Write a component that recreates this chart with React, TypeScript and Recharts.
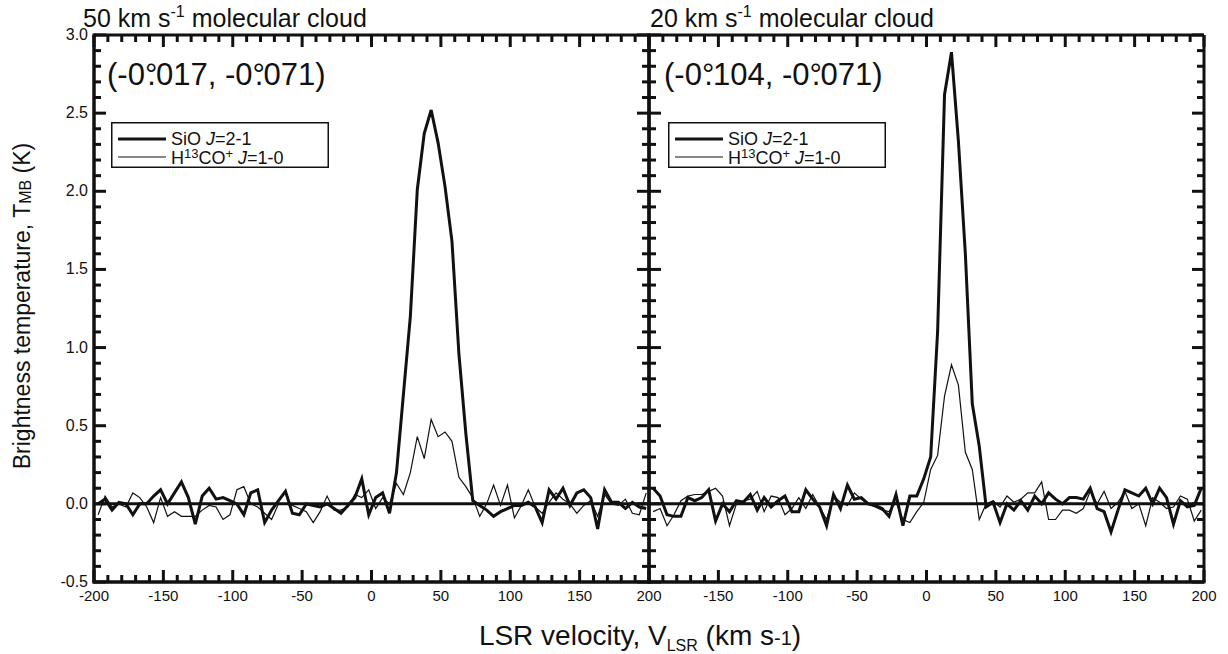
import React from 'react';
import { LineChart, Line, XAxis, YAxis, ReferenceLine, Legend } from 'recharts';

// channel centres (km/s)
const velocity = [
  -197, -192, -187, -182, -177, -172, -167, -162, -157, -152,
  -147, -142, -137, -132, -127, -122, -117, -112, -107, -102,
  -97, -92, -87, -82, -77, -72, -67, -62, -57, -52,
  -47, -42, -37, -32, -27, -22, -17, -12, -7, -2,
  3, 8, 13, 18, 23, 28, 33, 38, 43, 48,
  53, 58, 63, 68, 73, 78, 83, 88, 93, 98,
  103, 108, 113, 118, 123, 128, 133, 138, 143, 148,
  153, 158, 163, 168, 173, 178, 183, 188, 193, 198,
];

// 50 km/s cloud (-0.017, -0.071)
const sio50 = [
  0.0, 0.03, -0.04, 0.01, 0.0, -0.07, 0.0, 0.0, 0.05, 0.09,
  0.0, 0.07, 0.14, 0.04, -0.13, 0.05, 0.1, 0.03, 0.04, 0.02,
  0.0, -0.07, 0.07, 0.09, -0.12, -0.04, 0.02, 0.08, -0.06, -0.07,
  0.0, -0.01, -0.02, 0.0, -0.03, -0.06, -0.01, 0.04, 0.16, -0.07,
  0.04, 0.07, -0.06, 0.2, 0.7, 1.2, 2.01, 2.37, 2.52, 2.31,
  2.03, 1.68, 0.96, 0.45, 0.02, -0.01, -0.04, -0.08, -0.05, -0.03,
  -0.01, -0.01, 0.01, -0.02, -0.12, 0.09, 0.03, 0.1, -0.01, 0.07,
  0.09, 0.04, -0.16, 0.09, 0.01, 0.01, -0.03, 0.01, -0.02, -0.03,
];
const hco50 = [
  -0.07, 0.05, -0.02, 0.0, -0.02, 0.07, 0.04, -0.02, -0.12, 0.04,
  -0.08, -0.05, -0.08, -0.08, -0.08, -0.04, -0.01, -0.02, -0.1, -0.07,
  0.09, 0.11, 0.0, -0.02, -0.06, -0.1, 0.0, 0.0, -0.01, -0.03,
  -0.05, -0.12, -0.05, 0.05, -0.04, -0.04, -0.02, 0.06, 0.04, 0.09,
  -0.03, 0.04, 0.0, 0.13, 0.06, 0.2, 0.43, 0.29, 0.54, 0.43,
  0.46, 0.4, 0.17, 0.11, 0.04, -0.08, 0.0, 0.12, -0.01, 0.12,
  -0.09, -0.01, 0.09, -0.02, -0.06, 0.01, 0.07, 0.03, 0.0, -0.06,
  -0.01, 0.02, -0.08, 0.06, 0.0, -0.01, 0.03, -0.06, -0.07, 0.07,
];

// 20 km/s cloud (-0.104, -0.071)
const sio20 = [
  0.1, 0.05, -0.07, -0.08, -0.08, 0.04, 0.02, 0.04, 0.09, -0.11,
  0.0, -0.05, 0.02, 0.01, 0.06, -0.04, 0.04, -0.02, 0.02, 0.05,
  -0.05, -0.05, 0.09, 0.03, -0.02, -0.14, 0.06, -0.03, 0.12, 0.03,
  0.04, 0.0, -0.01, -0.03, -0.08, 0.06, -0.14, 0.05, 0.05, 0.16,
  0.3, 1.1, 2.62, 2.89, 2.32, 1.6, 0.64, 0.37, -0.02, 0.01,
  -0.12, 0.0, -0.04, 0.02, -0.04, 0.05, 0.0, 0.07, 0.03, 0.0,
  0.04, 0.04, 0.03, 0.1, -0.03, -0.05, -0.18, -0.04, 0.09, 0.07,
  0.05, 0.1, 0.0, 0.1, 0.04, -0.13, 0.02, -0.02, -0.01, 0.1,
];
const hco20 = [
  -0.05, -0.03, -0.14, -0.07, 0.02, 0.05, 0.06, 0.06, 0.08, 0.1,
  0.05, -0.14, 0.0, 0.02, 0.03, 0.08, -0.05, 0.05, 0.04, -0.07,
  -0.03, 0.04, -0.03, 0.06, -0.02, -0.1, 0.05, 0.01, -0.01, 0.07,
  0.03, 0.0, -0.02, -0.04, -0.05, 0.01, -0.1, -0.12, -0.05, 0.01,
  0.22, 0.31, 0.69, 0.89, 0.76, 0.33, 0.22, -0.1, 0.0, 0.02,
  -0.02, 0.05, 0.01, 0.03, 0.07, 0.07, 0.14, -0.1, -0.1, -0.04,
  -0.04, -0.06, -0.03, 0.08, 0.0, 0.08, -0.03, 0.01, 0.08, -0.03,
  0.0, -0.14, 0.04, 0.01, -0.03, -0.02, 0.05, 0.03, -0.11, -0.04,
];

const xTicks = [
  -200, -190, -180, -170, -160, -150, -140, -130, -120, -110,
  -100, -90, -80, -70, -60, -50, -40, -30, -20, -10,
  0, 10, 20, 30, 40, 50, 60, 70, 80, 90,
  100, 110, 120, 130, 140, 150, 160, 170, 180, 190, 200,
];
const yTicks = [
  -0.5, -0.4, -0.3, -0.2, -0.1, 0, 0.1, 0.2, 0.3, 0.4,
  0.5, 0.6, 0.7, 0.8, 0.9, 1.0, 1.1, 1.2, 1.3, 1.4,
  1.5, 1.6, 1.7, 1.8, 1.9, 2.0, 2.1, 2.2, 2.3, 2.4,
  2.5, 2.6, 2.7, 2.8, 2.9, 3.0,
];

const X_MIN = -200;
const X_MAX = 200;
const Y_MIN = -0.5;
const Y_MAX = 3;

const INK = '#111111';
const SANS = "'Liberation Sans', Arial, Helvetica, sans-serif";

// plot box is 555 x 547 px in both panels
const PLOT_W = 555;
const PLOT_H = 547;
const PX_X = PLOT_W / (X_MAX - X_MIN);
const PX_Y = PLOT_H / (Y_MAX - Y_MIN);
const MAJOR_LEN = 12;
const MINOR_LEN = 7;
const TICK_W = 3;

const rows = (sio: number[], hco: number[]) =>
  velocity.map((v, i) => ({ v, sio: sio[i], hco: hco[i] }));

const isMajor = (v: number, step: number) => Math.abs(v / step - Math.round(v / step)) < 1e-6;

const axisLine = { stroke: INK, strokeWidth: 3, strokeLinecap: 'square' as const };

const bottomLabel = (hide: number[]) => (p: any) => {
  const v = p.payload.value;
  if (!isMajor(v, 50) || hide.includes(v)) return <g />;
  return (
    <text x={p.x} y={p.y + 19} textAnchor="middle" fontSize={15} fontFamily={SANS} fill={INK}>
      {v}
    </text>
  );
};

const leftLabel = (p: any) => {
  const v = p.payload.value;
  if (!isMajor(v, 0.5)) return <g />;
  return (
    <text x={p.x - 6} y={p.y + 5} textAnchor="end" fontSize={16} fontFamily={SANS} fill={INK}>
      {v.toFixed(1)}
    </text>
  );
};

const LegendBox = () => (
  <svg width={218} height={46} style={{ display: 'block' }}>
    <rect x={0.75} y={0.75} width={216.5} height={44.5} fill="#fff" stroke={INK} strokeWidth={1.5} />
    <line x1={7} x2={55} y1={17} y2={17} stroke={INK} strokeWidth={3} />
    <text x={60} y={23} fontSize={18} fontFamily={SANS} fill={INK}>
      SiO <tspan fontStyle="italic">J</tspan>=2-1
    </text>
    <line x1={7} x2={55} y1={35} y2={35} stroke={INK} strokeWidth={1.2} />
    <text x={60} y={42} fontSize={18} fontFamily={SANS} fill={INK}>
      H<tspan dy={-6} fontSize={13}>13</tspan>
      <tspan dy={6}>CO</tspan>
      <tspan dy={-6} fontSize={13}>+</tspan>
      <tspan dy={6}> </tspan>
      <tspan fontStyle="italic">J</tspan>=1-0
    </text>
  </svg>
);

const seg = (key: string, a: { x: number; y: number }, b: { x: number; y: number }) => (
  <ReferenceLine
    key={key}
    xAxisId="b"
    yAxisId="l"
    segment={[a, b]}
    stroke={INK}
    strokeWidth={TICK_W}
    ifOverflow="visible"
  />
);

// inward tick marks on all four sides
const tickMarks = () => [
  ...xTicks.flatMap((v) => {
    const d = (isMajor(v, 50) ? MAJOR_LEN : MINOR_LEN) / PX_Y;
    return [
      seg(`b${v}`, { x: v, y: Y_MIN }, { x: v, y: Y_MIN + d }),
      seg(`t${v}`, { x: v, y: Y_MAX }, { x: v, y: Y_MAX - d }),
    ];
  }),
  ...yTicks.flatMap((v) => {
    const d = (isMajor(v, 0.5) ? MAJOR_LEN : MINOR_LEN) / PX_X;
    return [
      seg(`l${v}`, { x: X_MIN, y: v }, { x: X_MIN + d, y: v }),
      seg(`r${v}`, { x: X_MAX, y: v }, { x: X_MAX - d, y: v }),
    ];
  }),
];

interface PanelProps {
  sio: number[];
  hco: number[];
  width: number;
  yWidth: number;
  right: number;
  yLabels: boolean;
  hideX: number[];
  legendLeft: number;
}

const Panel = ({ sio, hco, width, yWidth, right, yLabels, hideX, legendLeft }: PanelProps) => (
  <LineChart
    width={width}
    height={610}
    data={rows(sio, hco)}
    margin={{ top: 35, right, bottom: 0, left: 0 }}
  >
    <XAxis
      xAxisId="b"
      dataKey="v"
      type="number"
      domain={[X_MIN, X_MAX]}
      allowDataOverflow
      ticks={xTicks}
      interval={0}
      height={28}
      tickSize={0}
      tickMargin={0}
      tickLine={false}
      axisLine={axisLine}
      tick={bottomLabel(hideX)}
    />
    <YAxis
      yAxisId="l"
      type="number"
      domain={[Y_MIN, Y_MAX]}
      allowDataOverflow
      ticks={yTicks}
      interval={0}
      width={yWidth}
      tickSize={0}
      tickMargin={0}
      tickLine={false}
      axisLine={axisLine}
      tick={yLabels ? leftLabel : false}
    />
    <Line
      xAxisId="b"
      yAxisId="l"
      type="linear"
      dataKey="hco"
      stroke={INK}
      strokeWidth={1.2}
      dot={false}
      isAnimationActive={false}
    />
    <Line
      xAxisId="b"
      yAxisId="l"
      type="linear"
      dataKey="sio"
      stroke={INK}
      strokeWidth={3}
      dot={false}
      isAnimationActive={false}
    />
    <ReferenceLine xAxisId="b" yAxisId="l" y={0} stroke={INK} strokeWidth={3} />
    {/* frame */}
    <ReferenceLine xAxisId="b" yAxisId="l" y={Y_MIN} stroke={INK} strokeWidth={3} ifOverflow="visible" />
    <ReferenceLine xAxisId="b" yAxisId="l" y={Y_MAX} stroke={INK} strokeWidth={3} ifOverflow="visible" />
    <ReferenceLine xAxisId="b" yAxisId="l" x={X_MIN} stroke={INK} strokeWidth={3} ifOverflow="visible" />
    <ReferenceLine xAxisId="b" yAxisId="l" x={X_MAX} stroke={INK} strokeWidth={3} ifOverflow="visible" />
    {tickMarks()}
    <Legend
      content={() => <LegendBox />}
      layout="vertical"
      align="center"
      verticalAlign="middle"
      wrapperStyle={{ left: legendLeft, top: 122, width: 218, height: 46 }}
    />
  </LineChart>
);

const Coord = ({ x, a, b }: { x: number; a: string; b: string }) => (
  <text x={x} y={85} fontSize={31} fontFamily={SANS} fill={INK}>
    (-0<tspan>°</tspan>
    <tspan dx={-10}>.</tspan>
    {a}, -0<tspan>°</tspan>
    <tspan dx={-10}>.</tspan>
    {b})
  </text>
);

export default function App() {
  return (
    <div style={{ position: 'absolute', left: 0, top: 0, width: 1228, height: 654, background: '#fff' }}>
      <div style={{ position: 'absolute', left: 0, top: 0 }}>
        <Panel sio={sio50} hco={hco50} width={680} yWidth={94} right={31} yLabels hideX={[]} legendLeft={111} />
      </div>
      <div style={{ position: 'absolute', left: 600, top: 0 }}>
        <Panel sio={sio20} hco={hco20} width={625} yWidth={49} right={21} yLabels={false} hideX={[-200]} legendLeft={68} />
      </div>
      <svg
        width={1228}
        height={654}
        style={{ position: 'absolute', left: 0, top: 0, pointerEvents: 'none' }}
      >
        <text x={83} y={27} fontSize={25} fontFamily={SANS} fill={INK}>
          50 km s<tspan dy={-10} fontSize={16}>-1</tspan>
          <tspan dy={10}> molecular cloud</tspan>
        </text>
        <text x={650} y={27} fontSize={25} fontFamily={SANS} fill={INK}>
          20 km s<tspan dy={-10} fontSize={16}>-1</tspan>
          <tspan dy={10}> molecular cloud</tspan>
        </text>
        <Coord x={107} a="017" b="071" />
        <Coord x={664} a="104" b="071" />
        <text
          x={30}
          y={306}
          transform="rotate(-90, 30, 306)"
          textAnchor="middle"
          fontSize={23}
          fontFamily={SANS}
          fill={INK}
        >
          Brightness temperature, T<tspan fontSize={16} dy={1}>MB</tspan>
          <tspan dy={-1}> (K)</tspan>
        </text>
        <text x={640} y={645} textAnchor="middle" fontSize={28} fontFamily={SANS} fill={INK}>
          LSR velocity, V<tspan fontSize={16} dy={6}>LSR</tspan>
          <tspan dy={-6}> (km s</tspan>
          <tspan fontSize={20}>-1</tspan>)
        </text>
      </svg>
    </div>
  );
}
